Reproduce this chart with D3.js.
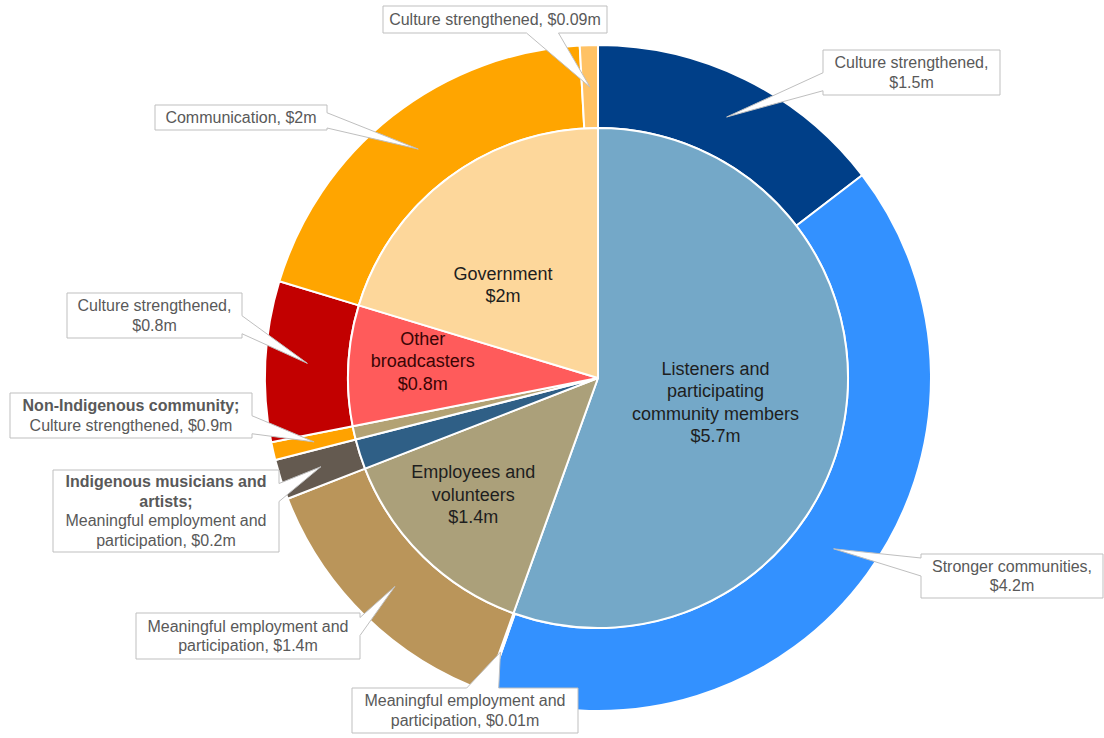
<!DOCTYPE html>
<html>
<head>
  <meta charset="utf-8">
  <title>Funding by stakeholder and outcome</title>
  <script src="https://d3js.org/d3.v7.min.js"></script>
  <style>
    html, body { margin:0; padding:0; background:#fff; }
    svg { display:block; font-family:"Liberation Sans", Arial, sans-serif; }
  </style>
</head>
<body>
<div class="chart"></div>
<script>

  // inner ring: stakeholders
  var stakeholders = ["Listeners", "Employees", "Musicians", "NonIndigenous", "Broadcasters", "Government"];
  var stakeholderLabels = [
    ["Listeners and", "participating", "community members", "$5.7m"],
    ["Employees and", "volunteers", "$1.4m"],
    [],
    [],
    ["Other", "broadcasters", "$0.8m"],
    ["Government", "$2m"]
  ];
  var stakeholderColors = ["#74a8c8", "#aba07a", "#2f5f86", "#b3a274", "#ff5b5b", "#fdd79b"];

  // outer ring: outcomes (each belongs to a stakeholder)
  var outcomeParent = ["Listeners", "Listeners", "Listeners", "Employees", "Musicians", "NonIndigenous", "Broadcasters", "Government", "Government"];
  var outcomeValues = [1.5, 4.2, 0.01, 1.4, 0.2, 0.09, 0.8, 2, 0.09];
  var outcomeColors = ["#003f88", "#3391ff", "#3f86e8", "#ba955a", "#645a50", "#ffa200", "#c20000", "#ffa500", "#ffc265"];
  var outcomeLabels = [
    {bold: [], text: ["Culture strengthened,", "$1.5m"]},
    {bold: [], text: ["Stronger communities,", "$4.2m"]},
    {bold: [], text: ["Meaningful employment and", "participation, $0.01m"]},
    {bold: [], text: ["Meaningful employment and", "participation, $1.4m"]},
    {bold: ["Indigenous musicians and", "artists;"], text: ["Meaningful employment and", "participation, $0.2m"]},
    {bold: ["Non-Indigenous community;"], text: ["Culture strengthened, $0.9m"]},
    {bold: [], text: ["Culture strengthened,", "$0.8m"]},
    {bold: [], text: ["Communication, $2m"]},
    {bold: [], text: ["Culture strengthened, $0.09m"]}
  ];

  // layout
  var W = 1104, H = 738;
  var cx = 598, cy = 378;
  var rInner = 250, rOuter = 333;
  // label radius and angle nudge (degrees) for the inner labels
  var innerLabelR = [120, 171, 0, 0, 176, 133];
  var innerLabelTurn = [2, 2.6, 0, 0, 2.5, -9];
  var calloutBoxes = [
    [823, 50, 177, 45],
    [921, 554, 182, 44],
    [352, 688, 226, 45],
    [136, 613, 224, 46],
    [53, 470, 226, 82],
    [10, 393, 242, 45],
    [67, 293, 175, 45],
    [155, 105, 172, 25],
    [383, 6, 224, 27]
  ];

  var innerValues = stakeholders.map(function(s) {
    return d3.sum(outcomeValues.filter(function(v, i) { return outcomeParent[i] === s; }));
  });

  var svg = d3.select("div.chart").append("svg")
      .attr("width", W)
      .attr("height", H);

  var g = svg.append("g").attr("transform", "translate(" + cx + "," + cy + ")");

  var pie = d3.pie().sort(null).value(function(d) { return d; });
  var innerArcs = pie(innerValues);
  var outerArcs = pie(outcomeValues);

  var innerArc = d3.arc().innerRadius(0).outerRadius(rInner);
  var outerArc = d3.arc().innerRadius(rInner).outerRadius(rOuter);
  var outerMid = d3.arc().innerRadius(291).outerRadius(291);

  g.selectAll("path.outer").data(outerArcs).enter().append("path")
    .attr("class", "outer")
    .attr("d", outerArc)
    .attr("fill", function(d, i) { return outcomeColors[i]; })
    .attr("stroke", "#fff")
    .attr("stroke-width", 2)
    .attr("stroke-linejoin", "round");

  g.selectAll("path.inner").data(innerArcs).enter().append("path")
    .attr("class", "inner")
    .attr("d", innerArc)
    .attr("fill", function(d, i) { return stakeholderColors[i]; })
    .attr("stroke", "#fff")
    .attr("stroke-width", 2)
    .attr("stroke-linejoin", "round");

  // inner labels
  innerArcs.forEach(function(d, i) {
    var lines = stakeholderLabels[i];
    if (!lines.length) return;
    var a = (d.startAngle + d.endAngle) / 2 + innerLabelTurn[i] * Math.PI / 180;
    var c = [innerLabelR[i] * Math.sin(a), -innerLabelR[i] * Math.cos(a)];
    var lh = 22.5;
    var t = g.append("text")
      .attr("text-anchor", "middle")
      .attr("font-size", 18)
      .attr("fill", i === 4 ? "#3a0505" : "#1e1e1e");
    lines.forEach(function(l, k) {
      t.append("tspan")
        .attr("x", c[0])
        .attr("y", c[1] + (k - (lines.length - 1) / 2) * lh + 6)
        .text(l);
    });
  });

  // callouts (box + wedge pointing at the outer slice)
  function calloutPath(box, tip) {
    var x0 = box[0], y0 = box[1], x1 = box[0] + box[2], y1 = box[1] + box[3];
    var outL = x0 - tip[0], outR = tip[0] - x1, outT = y0 - tip[1], outB = tip[1] - y1;
    var side = "B", best = -Infinity;
    [["L", outL], ["R", outR], ["T", outT], ["B", outB]].forEach(function(s) {
      if (s[1] > best) { best = s[1]; side = s[0]; }
    });
    var horiz = side === "T" || side === "B";
    var a = horiz ? x0 : y0, b = horiz ? x1 : y1;
    var mid = (a + b) / 2;
    var proj = Math.max(a + 4, Math.min(b - 4, horiz ? tip[0] : tip[1]));
    var center = mid + 0.5 * (proj - mid);
    var half = horiz ? 16 : 9;
    var p1 = Math.max(a + 2, center - half), p2 = Math.min(b - 2, center + half);
    var p = d3.path();
    p.moveTo(x0, y0);
    if (side === "T") { p.lineTo(p1, y0); p.lineTo(tip[0], tip[1]); p.lineTo(p2, y0); }
    p.lineTo(x1, y0);
    if (side === "R") { p.lineTo(x1, p1); p.lineTo(tip[0], tip[1]); p.lineTo(x1, p2); }
    p.lineTo(x1, y1);
    if (side === "B") { p.lineTo(p2, y1); p.lineTo(tip[0], tip[1]); p.lineTo(p1, y1); }
    p.lineTo(x0, y1);
    if (side === "L") { p.lineTo(x0, p2); p.lineTo(tip[0], tip[1]); p.lineTo(x0, p1); }
    p.closePath();
    return p.toString();
  }

  var callouts = svg.append("g");
  outerArcs.forEach(function(d, i) {
    var box = calloutBoxes[i];
    var c = outerMid.centroid(d);
    var tip = [c[0] + cx, c[1] + cy];
    callouts.append("path")
      .attr("d", calloutPath(box, tip))
      .attr("fill", "#fff")
      .attr("stroke", "#bfbfbf")
      .attr("stroke-width", 1);

    var lab = outcomeLabels[i];
    var lines = lab.bold.map(function(l) { return {t: l, b: true}; })
      .concat(lab.text.map(function(l) { return {t: l, b: false}; }));
    var lh = 19.5;
    var mx = box[0] + box[2] / 2, my = box[1] + box[3] / 2;
    var t = callouts.append("text")
      .attr("text-anchor", "middle")
      .attr("font-size", 16)
      .attr("fill", "#595959");
    lines.forEach(function(l, k) {
      t.append("tspan")
        .attr("x", mx)
        .attr("y", my + (k - (lines.length - 1) / 2) * lh + 5.5)
        .attr("font-weight", l.b ? "bold" : null)
        .text(l.t);
    });
  });

</script>
</body>
</html>
